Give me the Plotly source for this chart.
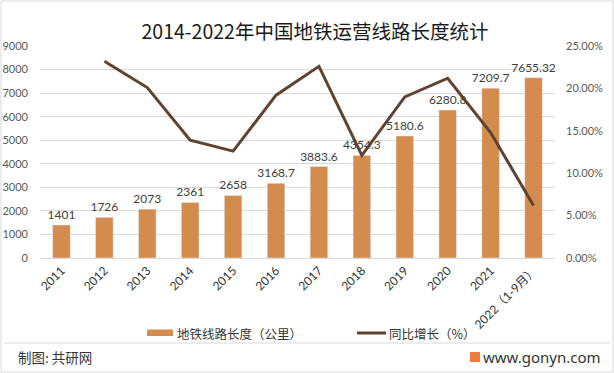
import plotly.graph_objects as go

years = ["2011", "2012", "2013", "2014", "2015", "2016", "2017", "2018", "2019", "2020", "2021", "2022（1-9月）"]
length_km = [1401, 1726, 2073, 2361, 2658, 3168.7, 3883.6, 4354.3, 5180.6, 6280.8, 7209.7, 7655.32]
length_labels = ["1401", "1726", "2073", "2361", "2658", "3168.7", "3883.6", "4354.3", "5180.6", "6280.8", "7209.7", "7655.32"]
growth_years = years[1:]
growth = [0.232, 0.201, 0.139, 0.126, 0.192, 0.226, 0.121, 0.190, 0.212, 0.148, 0.062]
series_names = ["地铁线路长度（公里）", "同比增长（%）"]

FONT = "Lato, 'Noto Sans CJK SC', sans-serif"
CJK = "'Noto Sans CJK SC', sans-serif"
BAR_COLOR = "#D38B4E"
LINE_COLOR = "#5E4330"

fig = go.Figure()
fig.add_trace(go.Bar(
    x=years, y=length_km, name=series_names[0],
    marker=dict(color=BAR_COLOR),
    text=length_labels, textposition="outside", constraintext="none",
    textfont=dict(size=12, color="#404040", family=FONT),
    cliponaxis=False, showlegend=False,
))
fig.add_trace(go.Scatter(
    x=growth_years, y=growth, name=series_names[1], yaxis="y2",
    mode="lines", line=dict(color=LINE_COLOR, width=3), showlegend=False,
))

# pixel -> paper helpers (plot area: x 40..555, y 46..258)
def px(x):
    return (x - 40) / 515.0

def py(y):
    return (258 - y) / 212.0

fig.update_layout(
    width=614, height=373,
    margin=dict(l=40, r=59, t=46, b=115),
    paper_bgcolor="white", plot_bgcolor="white",
    bargap=0.59,
    title=dict(text="2014-2022年中国地铁运营线路长度统计", x=0.513, xanchor="center",
               y=0.915, yanchor="middle",
               font=dict(size=19.5, color="#1a1a1a", family=CJK)),
    xaxis=dict(type="category", tickangle=-45, tickfont=dict(size=12, color="#333333", family=FONT),
               showline=True, linecolor="#D9D9D9", ticks="", showgrid=False, automargin=False),
    yaxis=dict(range=[0, 9000], dtick=1000, showgrid=True, gridcolor="#D9D9D9",
               tickfont=dict(size=11, color="#595959", family=FONT), zeroline=False,
               ticklabelstandoff=11, automargin=False),
    yaxis2=dict(overlaying="y", side="right", range=[0, 0.25], dtick=0.05, tickformat=".2%",
                showgrid=False, zeroline=False, automargin=False,
                tickfont=dict(size=11, color="#595959", family=FONT), ticklabelstandoff=10),
    showlegend=False,
    shapes=[
        # legend swatches
        dict(type="rect", xref="paper", yref="paper", x0=px(147), x1=px(173), y0=py(329.5), y1=py(336),
             fillcolor=BAR_COLOR, line=dict(width=0)),
        dict(type="line", xref="paper", yref="paper", x0=px(357), x1=px(386), y0=py(333), y1=py(333),
             line=dict(color=LINE_COLOR, width=3)),
        # footer separator and frame
        dict(type="line", xref="paper", yref="paper", x0=px(4), x1=px(610), y0=py(343), y1=py(343),
             line=dict(color="#D9D9D9", width=1)),
        dict(type="rect", xref="paper", yref="paper", x0=px(1), x1=px(613), y0=py(372), y1=py(1),
             line=dict(color="#D9D9D9", width=1)),
        # logo block
        dict(type="rect", xref="paper", yref="paper", x0=px(470), x1=px(480), y0=py(352), y1=py(362),
             fillcolor="#F07A3C", line=dict(width=0)),
    ],
    annotations=[
        dict(text=series_names[0], xref="paper", yref="paper", x=px(175), y=py(333),
             xanchor="left", yanchor="middle", showarrow=False,
             font=dict(size=12.5, color="#333333", family=CJK)),
        dict(text=series_names[1], xref="paper", yref="paper", x=px(387), y=py(333),
             xanchor="left", yanchor="middle", showarrow=False,
             font=dict(size=12.5, color="#333333", family=CJK)),
        dict(text="制图: 共研网", xref="paper", yref="paper", x=px(16), y=py(356.5),
             xanchor="left", yanchor="middle", showarrow=False,
             font=dict(size=13.5, color="#333333", family=CJK)),
        dict(text="www.gonyn.com", xref="paper", yref="paper", x=px(603), y=py(356.5),
             xanchor="right", yanchor="middle", showarrow=False,
             font=dict(size=15, color="#333333", family="'Noto Sans', sans-serif")),
    ],
)

fig.write_html("out.html", config={"displayModeBar": False},
               post_script="document.body.style.margin='0';")
